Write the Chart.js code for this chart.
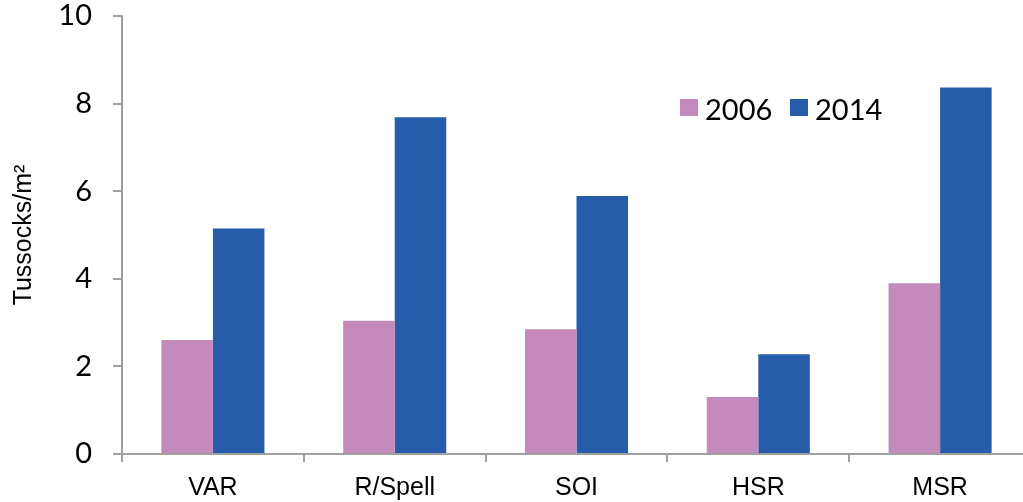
<!DOCTYPE html>
<html>
<head>
<meta charset="utf-8">
<title>Tussocks per m²</title>
<script src="https://cdn.jsdelivr.net/npm/chart.js@4.4.1/dist/chart.umd.min.js"></script>
<style>
  html, body { margin: 0; padding: 0; background: #ffffff; overflow: hidden; }
  #wrap { width: 1023px; height: 502px; overflow: hidden; }
  canvas { display: block; }
</style>
</head>
<body>
<div id="wrap"><canvas id="chart" width="1031" height="502"></canvas></div>
<script>
// Survey sites and tussock densities per year
const categories = ['VAR', 'R/Spell', 'SOI', 'HSR', 'MSR'];
const values2006 = [2.60, 3.04, 2.85, 1.30, 3.90];
const values2014 = [5.15, 7.69, 5.89, 2.28, 8.37];
const seriesNames = ['2006', '2014'];
const yTicks = [0, 2, 4, 6, 8, 10];

const PINK = '#C38ABB';
const BLUE = '#265CA9';
const AXIS = '#A0A0A0';

// Legend drawn inside the plot area, to the upper right
const insideLegend = {
  id: 'insideLegend',
  afterDraw(chart) {
    const ctx = chart.ctx;
    ctx.save();
    ctx.font = '29px Lato';
    ctx.textBaseline = 'alphabetic';
    ctx.textAlign = 'left';
    const slots = [680, 790];
    chart.data.datasets.forEach((ds, i) => {
      const x = slots[i];
      ctx.fillStyle = ds.backgroundColor;
      ctx.fillRect(x, 99, 18, 17);
      ctx.fillStyle = '#000000';
      ctx.fillText(ds.label, x + 25, 120);
    });
    ctx.restore();
  }
};

new Chart(document.getElementById('chart'), {
  type: 'bar',
  data: {
    labels: categories,
    datasets: [
      { label: seriesNames[0], data: values2006, backgroundColor: PINK },
      { label: seriesNames[1], data: values2014, backgroundColor: BLUE }
    ]
  },
  options: {
    responsive: false,
    devicePixelRatio: 1,
    animation: false,
    layout: { padding: { top: 16, right: 0, bottom: 0, left: 0 } },
    datasets: {
      bar: { barPercentage: 1.0, categoryPercentage: 0.567 }
    },
    plugins: {
      legend: { display: false },
      tooltip: { enabled: false }
    },
    scales: {
      x: {
        offset: true,
        grid: {
          offset: true,
          drawOnChartArea: false,
          drawTicks: true,
          tickLength: 8,
          tickColor: AXIS,
          lineWidth: 2
        },
        border: { display: true, color: AXIS, width: 2 },
        ticks: {
          color: '#000000',
          font: { family: 'Liberation Sans', size: 25 },
          padding: 11,
          maxRotation: 0,
          autoSkip: false
        },
        afterFit(scale) {
          scale.height = 48;
          scale.paddingLeft = 0;
          scale.paddingRight = 0;
        }
      },
      y: {
        min: 0,
        max: 10,
        afterBuildTicks(scale) { scale.ticks = yTicks.map(v => ({ value: v })); },
        grid: {
          drawOnChartArea: false,
          drawTicks: true,
          tickLength: 9,
          tickColor: AXIS,
          lineWidth: 2
        },
        border: { display: true, color: AXIS, width: 2 },
        ticks: {
          color: '#000000',
          font: { family: 'Lato', size: 29 },
          padding: 21
        },
        title: {
          display: true,
          text: 'Tussocks/m²',
          color: '#000000',
          font: { family: 'Liberation Sans', size: 25 },
          padding: { top: 9, bottom: 0 }
        },
        afterFit(scale) {
          scale.width = 122;
          scale.paddingTop = 0;
          scale.paddingBottom = 0;
        }
      }
    }
  },
  plugins: [insideLegend]
});
</script>
</body>
</html>
